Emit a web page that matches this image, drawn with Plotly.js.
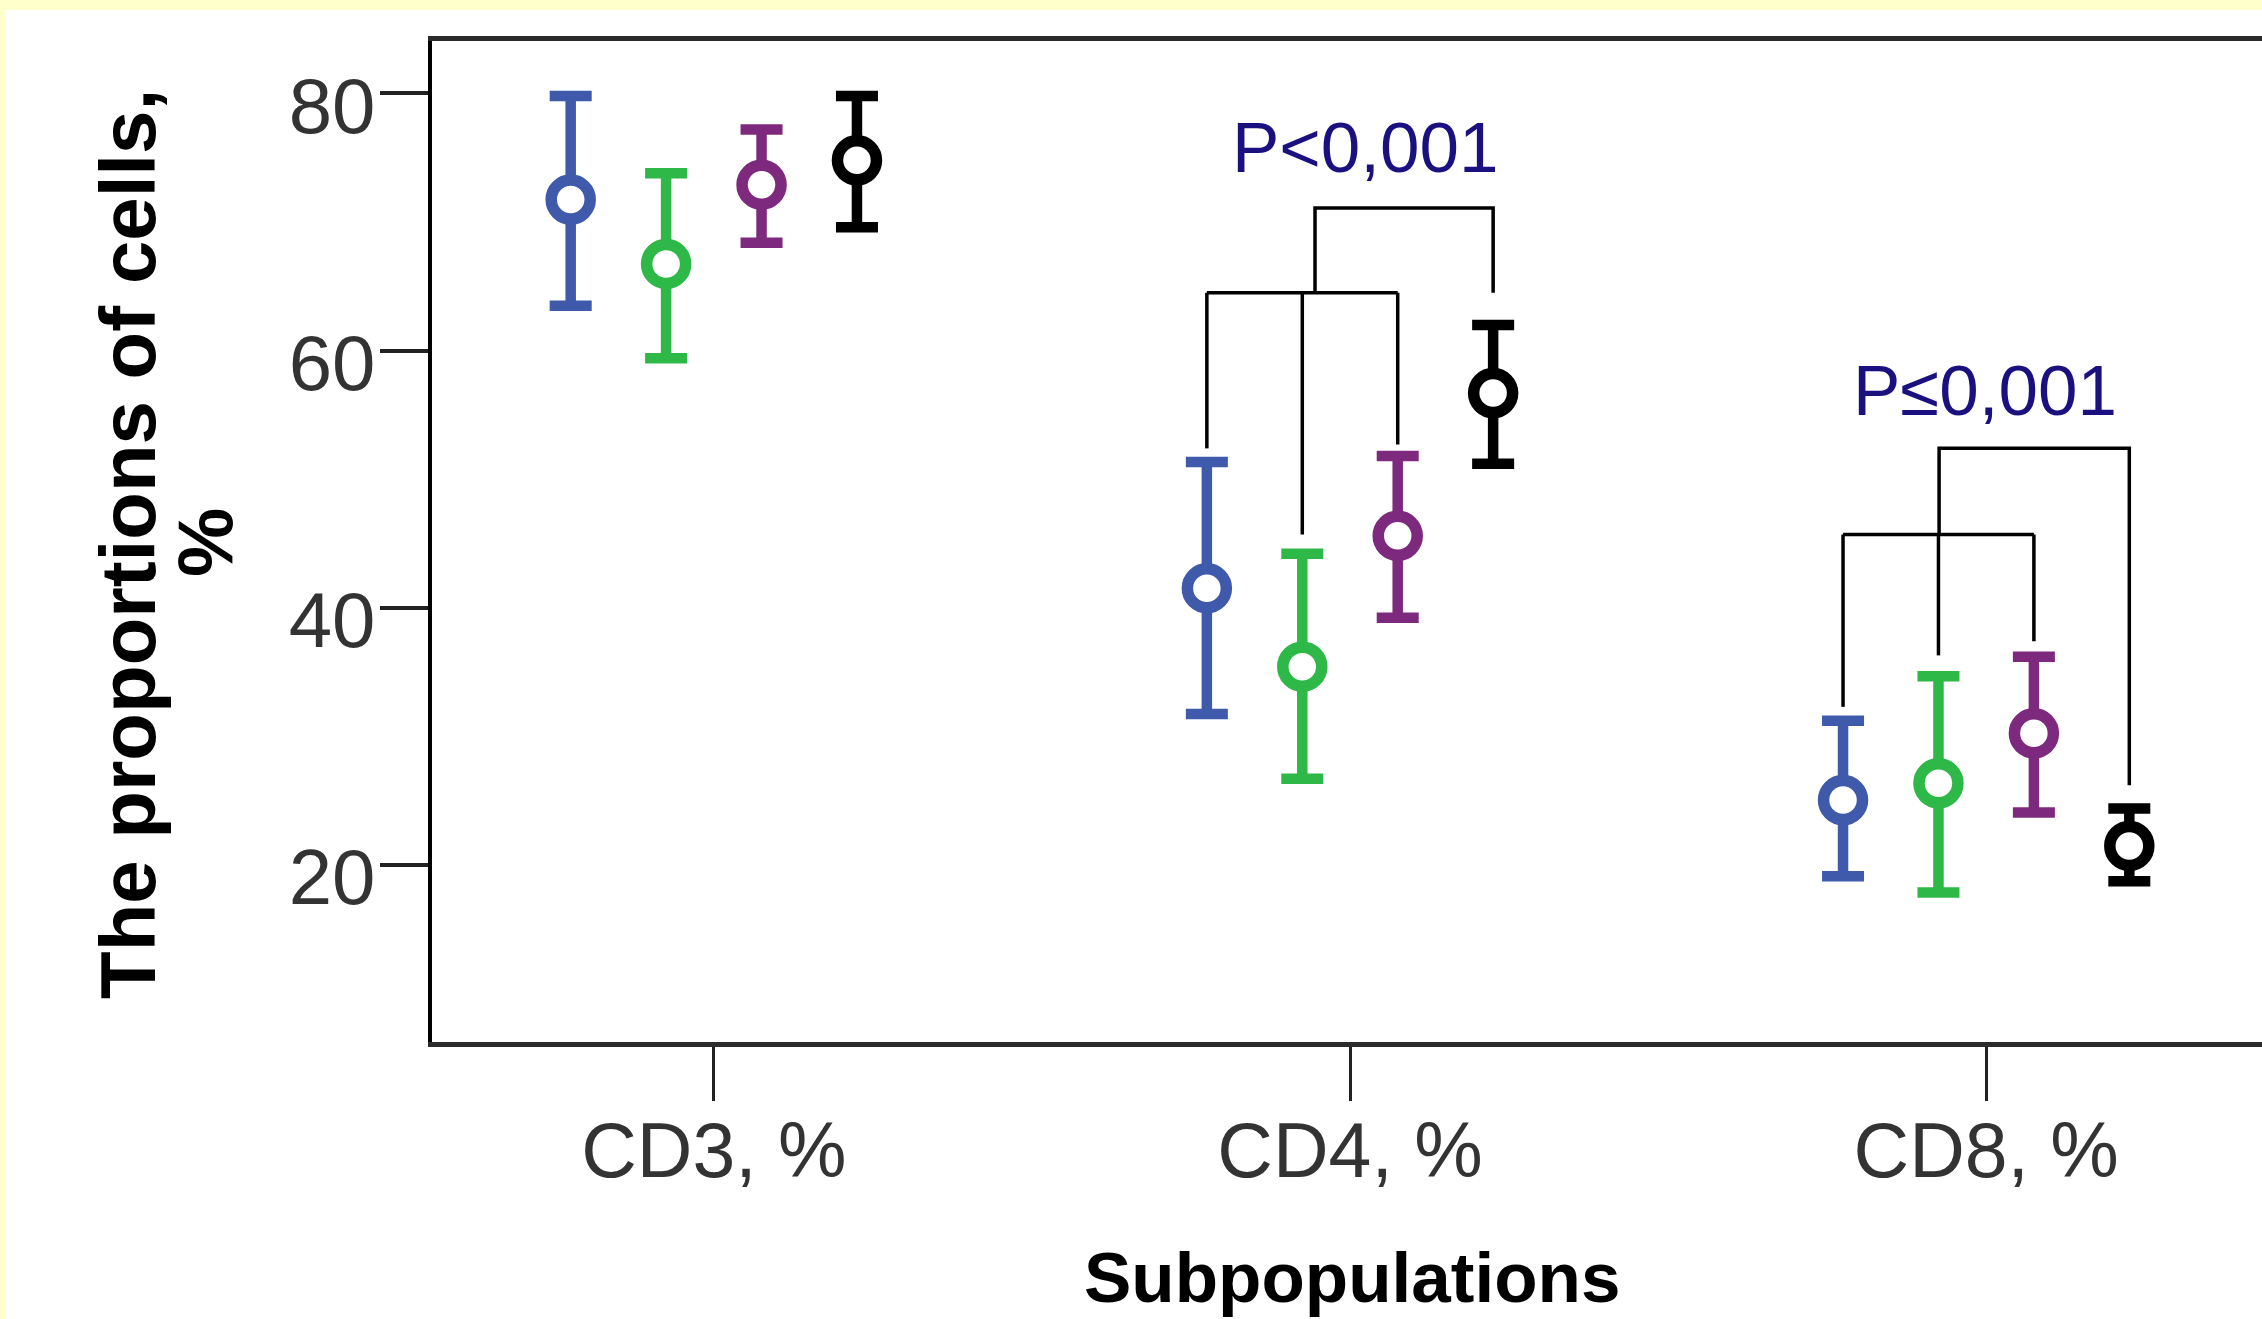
<!DOCTYPE html>
<html>
<head>
<meta charset="utf-8">
<script src="https://cdn.plot.ly/plotly-3.0.1.min.js"></script>
<style>
  html, body { margin: 0; padding: 0; background: #FFFFCC; overflow: hidden; width: 2262px; height: 1319px; }
  #chart { position: absolute; left: 5px; top: 10px; width: 2275px; height: 1309px; background: #ffffff; }
</style>
</head>
<body>
<div id="chart"></div>
<script>
// ---------- data ----------
const categories = ['CD3, %', 'CD4, %', 'CD8, %'];
const seriesNames = ['Group 1', 'Group 2', 'Group 3', 'Group 4'];

const blueMean   = [71.75, 41.52, 25.05];
const blueUpper  = [79.8, 51.34, 31.22];
const blueLower  = [63.5, 31.74, 19.12];

const greenMean  = [66.74, 35.42, 26.35];
const greenUpper = [73.8, 44.2, 34.67];
const greenLower = [59.4, 26.71, 17.86];

const purpleMean  = [72.9, 45.6, 30.24];
const purpleUpper = [77.2, 51.8, 36.2];
const purpleLower = [68.4, 39.22, 24.08];

const blackMean  = [74.8, 56.7, 21.48];
const blackUpper = [79.8, 62.0, 24.4];
const blackLower = [69.6, 51.2, 18.74];

const yTickVals = [20, 40, 60, 80];

// significance brackets (group index, levels, leg end values per series)
const bracketGroups = [1, 2];
const bracketLow  = [64.5, 45.7];
const bracketHigh = [71.1, 52.4];
const bracketLegEnds = [[52.4, 45.7, 52.7, 64.5], [32.3, 36.3, 37.4, 26.2]];
const bracketLabels = ['P<0,001', 'P\u22640,001'];
const bracketLabelY = [75.8, 56.9];

// ---------- layout helpers ----------
const offsets = [-0.225, -0.075, 0.075, 0.225];
const midOffsets = [-0.055, -0.074];
const labelOffsets = [0.025, -0.002];
const colors = ['#3f5aab', '#2eb847', '#7d2a7e', '#000000'];

const means = [blueMean, greenMean, purpleMean, blackMean];
const uppers = [blueUpper, greenUpper, purpleUpper, blackUpper];
const lowers = [blueLower, greenLower, purpleLower, blackLower];

const traces = [];
bracketGroups.forEach((g, bi) => {
  const xs = offsets.map(o => g + o);
  const mid = g + midOffsets[bi];
  const legs = bracketLegEnds[bi];
  const bx = [], by = [];
  for (let s = 0; s < 3; s++) {
    bx.push(xs[s], xs[s], null);
    by.push(legs[s], bracketLow[bi], null);
  }
  bx.push(xs[0], xs[2], null); by.push(bracketLow[bi], bracketLow[bi], null);
  bx.push(mid, mid, xs[3], xs[3]);
  by.push(bracketLow[bi], bracketHigh[bi], bracketHigh[bi], legs[3]);
  traces.push({
    x: bx, y: by, mode: 'lines', type: 'scatter',
    line: { color: '#000000', width: 3.5 }, hoverinfo: 'skip', showlegend: false, connectgaps: false
  });
});

means.forEach((m, s) => {
  traces.push({
    type: 'scatter', mode: 'markers', name: seriesNames[s], showlegend: false,
    x: categories.map((c, i) => i + offsets[s]),
    y: m,
    error_y: {
      type: 'data', symmetric: false,
      array: m.map((v, i) => uppers[s][i] - v),
      arrayminus: m.map((v, i) => v - lowers[s][i]),
      color: colors[s], thickness: 10.5, width: 21
    },
    marker: { symbol: 'circle', size: 39, color: '#ffffff', line: { color: colors[s], width: 11.5 } }
  });
});

const PL = 432, PR = 2268, PT = 41, PB = 1042;
const px = v => (v - PL) / (PR - PL);
const py = v => (PB - v) / (PB - PT);

const annotations = [];
bracketGroups.forEach((g, bi) => {
  annotations.push({
    x: g + labelOffsets[bi], y: bracketLabelY[bi], xref: 'x', yref: 'y',
    text: bracketLabels[bi], showarrow: false, xanchor: 'center', yanchor: 'middle',
    font: { family: 'Liberation Sans, Arial, sans-serif', size: 71, color: '#1a1080' }
  });
});
annotations.push({
  x: px(128), y: py(544), xref: 'paper', yref: 'paper', text: 'The proportions of cells,',
  textangle: -90, showarrow: false, xanchor: 'center', yanchor: 'middle',
  font: { family: 'Liberation Sans, Arial, sans-serif', size: 78, color: '#000000', weight: 'bold' }
});
annotations.push({
  x: px(205), y: py(543), xref: 'paper', yref: 'paper', text: '%',
  textangle: -90, showarrow: false, xanchor: 'center', yanchor: 'middle',
  font: { family: 'Liberation Sans, Arial, sans-serif', size: 78, color: '#000000', weight: 'bold' }
});
annotations.push({
  x: px(1352), y: py(1277), xref: 'paper', yref: 'paper', text: 'Subpopulations',
  showarrow: false, xanchor: 'center', yanchor: 'middle',
  font: { family: 'Liberation Sans, Arial, sans-serif', size: 71, color: '#000000', weight: 'bold' }
});

const layout = {
  width: 2275, height: 1309,
  margin: { l: PL - 5, r: 2275 - (PR - 5), t: PT - 10, b: 1309 - (PB - 10) },
  paper_bgcolor: '#ffffff', plot_bgcolor: '#ffffff',
  showlegend: false,
  xaxis: {
    range: [-0.443, 2.443], tickvals: [0, 1, 2], ticktext: categories,
    showgrid: false, zeroline: false, showline: true, linecolor: '#2b2b2b', linewidth: 5, mirror: true,
    ticks: 'outside', ticklen: 54, tickwidth: 3, tickcolor: '#222222',
    tickfont: { family: 'Liberation Sans, Arial, sans-serif', size: 77, color: '#333333' },
    ticklabelstandoff: -16,
    fixedrange: true
  },
  yaxis: {
    range: [6.235, 84.08], tickvals: yTickVals, ticktext: yTickVals.map(String),
    showgrid: false, zeroline: false, showline: true, linecolor: '#000000', linewidth: 4, mirror: true,
    ticks: 'outside', ticklen: 48, tickwidth: 4, tickcolor: '#222222',
    tickfont: { family: 'Liberation Sans, Arial, sans-serif', size: 78, color: '#333333' },
    ticklabelshift: 12,
    ticklabelstandoff: -11,
    fixedrange: true
  },
  annotations: annotations
};

Plotly.newPlot('chart', traces, layout, { staticPlot: true, displayModeBar: false });
</script>
</body>
</html>
